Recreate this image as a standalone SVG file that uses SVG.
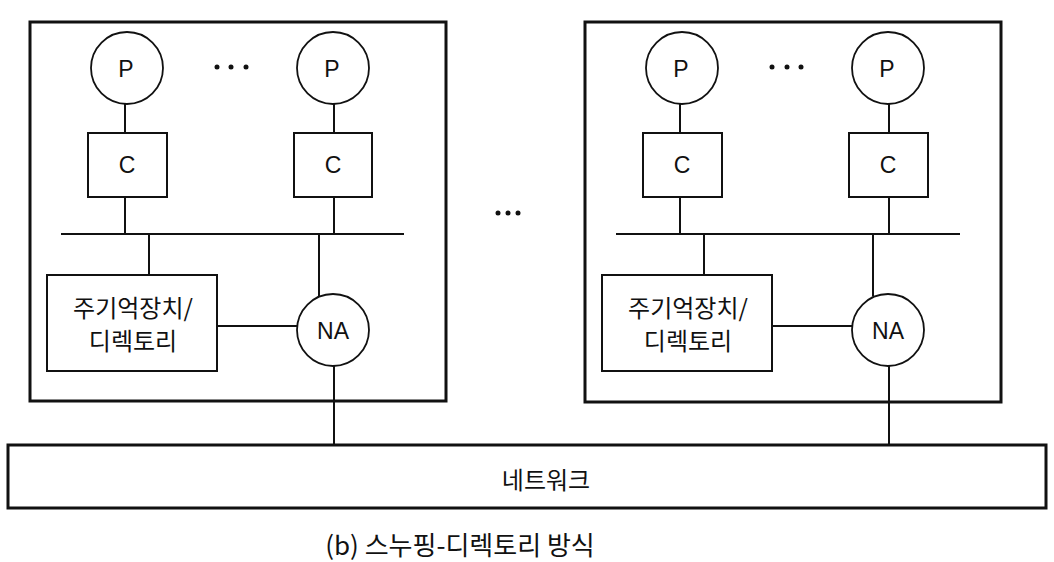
<svg xmlns="http://www.w3.org/2000/svg" width="1054" height="562" viewBox="0 0 1054 562">
<style>
.outer{fill:none;stroke:#111;stroke-width:3}
.box{fill:#fff;stroke:#111;stroke-width:2}
.circ{fill:#fff;stroke:#111;stroke-width:1.8}
.ln{stroke:#111;stroke-width:2;fill:none}
.lat{font-family:"Liberation Sans",Arial,sans-serif;font-size:23px;fill:#111;text-anchor:middle}
.kr{font-family:"Noto Sans CJK KR","Noto Sans",sans-serif;font-size:24px;fill:#111;text-anchor:middle}
.cap{font-family:"Noto Sans CJK KR","Noto Sans",sans-serif;font-size:26px;fill:#111;text-anchor:middle}
.dot{fill:#111}
</style>
<rect width="1054" height="562" fill="#fff"/>
<g id="node-left-node">
<rect class="outer" x="30" y="22" width="416" height="379"/>
</g>
<g id="node-right-node">
<rect class="outer" x="585" y="22" width="416" height="380"/>
</g>
<g id="connectors">
<line class="ln" x1="125" y1="104" x2="125" y2="133"/>
<line class="ln" x1="334" y1="104" x2="334" y2="133"/>
<line class="ln" x1="125" y1="197" x2="125" y2="234"/>
<line class="ln" x1="334" y1="197" x2="334" y2="234"/>
<line class="ln" x1="61" y1="234" x2="404" y2="234"/>
<line class="ln" x1="149" y1="234" x2="149" y2="275"/>
<line class="ln" x1="319" y1="234" x2="319" y2="296"/>
<line class="ln" x1="217" y1="326" x2="297" y2="326"/>
<line class="ln" x1="334" y1="365" x2="334" y2="445"/>
<line class="ln" x1="680" y1="104" x2="680" y2="133"/>
<line class="ln" x1="889" y1="104" x2="889" y2="133"/>
<line class="ln" x1="680" y1="197" x2="680" y2="234"/>
<line class="ln" x1="889" y1="197" x2="889" y2="234"/>
<line class="ln" x1="616" y1="234" x2="960" y2="234"/>
<line class="ln" x1="704" y1="234" x2="704" y2="275"/>
<line class="ln" x1="873" y1="234" x2="873" y2="296"/>
<line class="ln" x1="772" y1="326" x2="853" y2="326"/>
<line class="ln" x1="889" y1="365" x2="889" y2="445"/>
</g>
<g id="node-p1-left"><circle class="circ" cx="127" cy="68" r="36"/><text class="lat" x="126" y="77">P</text></g>
<g id="node-p2-left"><circle class="circ" cx="333" cy="68" r="36"/><text class="lat" x="332" y="77">P</text></g>
<g id="node-dots-left"><circle class="dot" cx="217" cy="67" r="2.5"/><circle class="dot" cx="231" cy="67" r="2.5"/><circle class="dot" cx="246" cy="67" r="2.5"/></g>
<g id="node-c1-left"><rect class="box" x="88" y="133" width="79" height="64"/><text class="lat" x="127" y="173">C</text></g>
<g id="node-c2-left"><rect class="box" x="294" y="133" width="78" height="64"/><text class="lat" x="333" y="173">C</text></g>
<g id="node-mem-left"><rect class="box" x="47" y="275" width="170" height="96"/><text class="kr" x="133" y="317">주기억장치/</text><text class="kr" x="133" y="350">디렉토리</text></g>
<g id="node-na-left"><circle class="circ" cx="333" cy="330" r="36"/><text class="lat" x="333" y="339">NA</text></g>
<g id="node-p1-right"><circle class="circ" cx="682" cy="68" r="36"/><text class="lat" x="681" y="77">P</text></g>
<g id="node-p2-right"><circle class="circ" cx="888" cy="68" r="36"/><text class="lat" x="887" y="77">P</text></g>
<g id="node-dots-right"><circle class="dot" cx="772" cy="67" r="2.5"/><circle class="dot" cx="787" cy="67" r="2.5"/><circle class="dot" cx="801" cy="67" r="2.5"/></g>
<g id="node-c1-right"><rect class="box" x="643" y="133" width="79" height="64"/><text class="lat" x="682" y="173">C</text></g>
<g id="node-c2-right"><rect class="box" x="849" y="133" width="79" height="64"/><text class="lat" x="888" y="173">C</text></g>
<g id="node-mem-right"><rect class="box" x="602" y="275" width="170" height="96"/><text class="kr" x="688" y="317">주기억장치/</text><text class="kr" x="688" y="350">디렉토리</text></g>
<g id="node-na-right"><circle class="circ" cx="888" cy="330" r="36"/><text class="lat" x="888" y="339">NA</text></g>
<g id="node-middle-dots"><circle class="dot" cx="498" cy="213" r="2.5"/><circle class="dot" cx="508" cy="213" r="2.5"/><circle class="dot" cx="518" cy="213" r="2.5"/></g>
<g id="node-network"><rect class="outer" x="8" y="445" width="1038" height="63"/><text class="kr" x="546" y="489">네트워크</text></g>
<g id="caption"><text class="cap" x="460" y="555">(b) 스누핑-디렉토리 방식</text></g>
</svg>
